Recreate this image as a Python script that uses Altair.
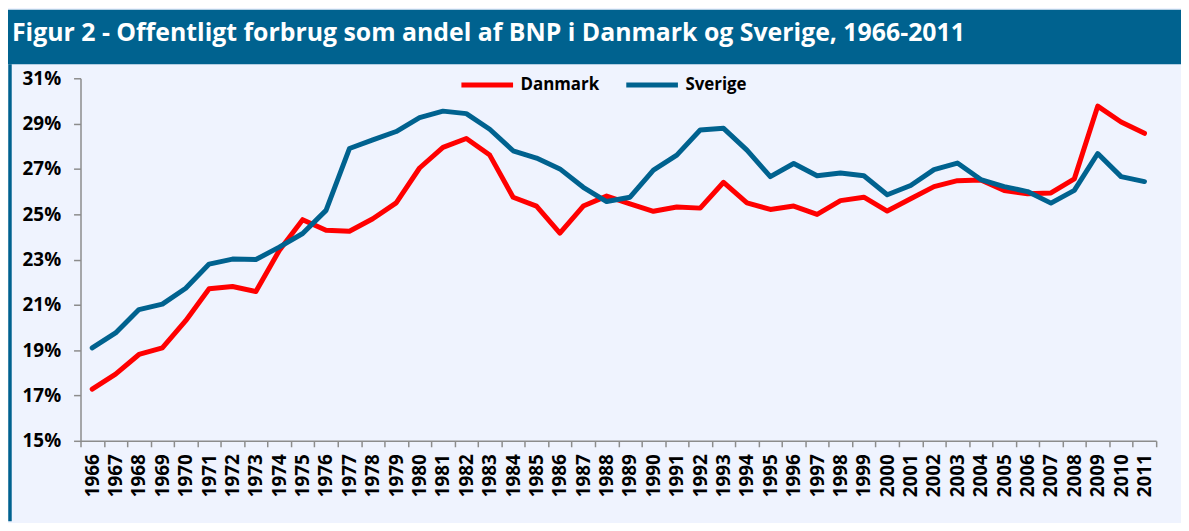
import altair as alt
import pandas as pd

years = list(range(1966, 2012))
danmark = [17.28, 17.94, 18.81, 19.10, 20.30, 21.71, 21.81, 21.59, 23.40, 24.76,
           24.29, 24.25, 24.80, 25.50, 27.04, 27.95, 28.34, 27.61, 25.75, 25.36,
           24.17, 25.36, 25.80, 25.46, 25.13, 25.32, 25.27, 26.41, 25.50, 25.21,
           25.36, 24.99, 25.60, 25.75, 25.14, 25.68, 26.22, 26.48, 26.51, 26.05,
           25.90, 25.94, 26.56, 29.77, 29.07, 28.57]
sverige = [19.10, 19.76, 20.79, 21.03, 21.73, 22.80, 23.02, 23.00, 23.55, 24.15,
           25.17, 27.90, 28.28, 28.65, 29.26, 29.55, 29.44, 28.75, 27.80, 27.48,
           27.00, 26.19, 25.56, 25.75, 26.95, 27.61, 28.72, 28.79, 27.83, 26.66,
           27.24, 26.70, 26.82, 26.70, 25.86, 26.27, 26.97, 27.26, 26.53, 26.22,
           26.00, 25.49, 26.05, 27.68, 26.66, 26.44]
series_names = ["Danmark", "Sverige"]
series_colors = ["#FF0000", "#00628F"]
y_ticks = [15, 17, 19, 21, 23, 25, 27, 29, 31]
title_text = "Figur 2 - Offentligt forbrug som andel af BNP i Danmark og Sverige, 1966-2011"

df = pd.DataFrame({
    "year": [str(y) for y in years] * 2,
    "value": danmark + sverige,
    "land": ["Danmark"] * len(years) + ["Sverige"] * len(years),
})

W, H = 1083, 365
PL, PT, PR, PB = 73, 69, 25, 81
BLUE = "#00628F"
FONT = "Open Sans"

one = pd.DataFrame({"a": [0]})

bar = alt.Chart(one).mark_rect(color=BLUE).encode(
    x=alt.value(-PL), x2=alt.value(W + PR), y=alt.value(-PT), y2=alt.value(-14)
)
border = alt.Chart(one).mark_rule(color=BLUE, strokeWidth=3.5).encode(
    x=alt.value(-PL + 2), y=alt.value(-14), y2=alt.value(H + PB)
)
title = alt.Chart(one).mark_text(
    text=title_text, color="white", font=FONT, fontWeight="bold", fontSize=25,
    align="left", baseline="middle"
).encode(x=alt.value(-69), y=alt.value(-46))

lines = alt.Chart(df).mark_line(strokeWidth=5, strokeCap="round", strokeJoin="round").encode(
    x=alt.X("year:O", bandPosition=0.5,
            scale=alt.Scale(type="band", paddingInner=0, paddingOuter=0),
            axis=alt.Axis(title=None, labelAngle=270, tickBand="extent",
                          labelFont=FONT, labelFontWeight="bold", labelFontSize=19,
                          labelColor="black", labelPadding=7,
                          domainColor="#8C8C8C", domainWidth=1.5,
                          tickColor="#8C8C8C", tickWidth=1.5, tickSize=6)),
    y=alt.Y("value:Q", scale=alt.Scale(domain=[15, 31], nice=False, zero=False),
            axis=alt.Axis(title=None, values=y_ticks, labelExpr="datum.value + '%'",
                          grid=False, labelFont=FONT, labelFontWeight="bold",
                          labelFontSize=19, labelColor="black", labelPadding=13,
                          domainColor="#8C8C8C", domainWidth=1.5,
                          tickColor="#8C8C8C", tickWidth=1.5, tickSize=7)),
    color=alt.Color("land:N", scale=alt.Scale(domain=series_names, range=series_colors),
                    legend=alt.Legend(title=None, orient="none", legendX=381, legendY=-22,
                                      direction="horizontal", symbolType="stroke",
                                      symbolSize=2704, symbolStrokeWidth=5,
                                      labelFont=FONT, labelFontWeight="bold",
                                      labelFontSize=17, labelColor="black",
                                      labelOffset=5, columnPadding=16)),
)

chart = alt.layer(bar, border, lines, title).properties(
    width=W, height=H,
    autosize=alt.AutoSizeParams(type="none"),
    padding={"left": PL, "top": PT, "right": PR, "bottom": PB},
    background="#EFF3FE",
).configure_view(stroke=None)

chart.save("out.html", embed_options={"renderer": "svg", "actions": False})
